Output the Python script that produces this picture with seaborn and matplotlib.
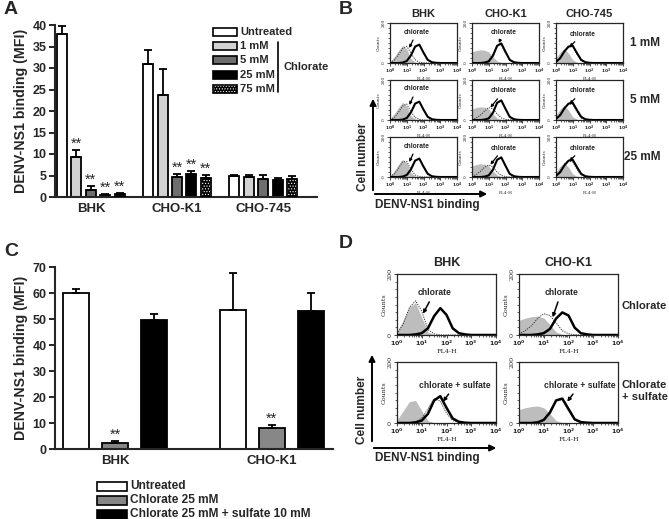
import matplotlib
matplotlib.use("Agg")
import matplotlib.pyplot as plt
from matplotlib.patches import Rectangle, FancyArrowPatch
from matplotlib.lines import Line2D
from matplotlib.container import BarContainer
import matplotlib.ticker as mticker
import seaborn as sns
import pandas as pd
import numpy as np

# ---------------- data: panel A ----------------
a_cells = ["BHK", "CHO-K1", "CHO-745"]
a_treat = ["Untreated", "1 mM", "5 mM", "25 mM", "75 mM"]
a_mean_bhk = [38.0, 9.3, 1.7, 0.4, 0.6]
a_err_bhk = [1.8, 1.6, 0.8, 0.2, 0.4]
a_mean_cho = [31.0, 23.7, 4.6, 5.3, 4.4]
a_err_cho = [3.2, 6.0, 0.8, 0.7, 0.8]
a_mean_745 = [5.0, 4.6, 4.3, 4.0, 4.2]
a_err_745 = [0.2, 0.6, 0.8, 0.5, 0.8]
a_star_bhk = [False, True, True, True, True]
a_star_cho = [False, False, True, True, True]
a_star_745 = [False, False, False, False, False]

# ---------------- data: panel C ----------------
c_cells = ["BHK", "CHO-K1"]
c_treat = ["Untreated", "Chlorate 25 mM", "Chlorate 25 mM + sulfate 10 mM"]
c_mean_bhk = [60.0, 2.5, 49.8]
c_err_bhk = [1.5, 0.7, 2.3]
c_mean_cho = [53.5, 8.0, 53.2]
c_err_cho = [14.3, 1.3, 6.7]
c_star_bhk = [False, True, False]
c_star_cho = [False, True, False]

# ---------------- data: FACS histograms (counts per FL4-H decade bin) ----------------
fl4_decades = [0.0, 0.25, 0.5, 0.75, 1.0, 1.25, 1.5, 1.75, 2.0, 2.25, 2.5, 2.75, 3.0, 3.25, 3.5, 3.75, 4.0]

b_bhk_ctrl = [6, 30, 62, 88, 70, 22, 4, 1, 0, 0, 0, 0, 0, 0, 0, 0, 0]
b_bhk_untr = [0, 0, 0, 2, 10, 38, 82, 92, 52, 16, 4, 1, 0, 0, 0, 0, 0]
b_bhk_chl_1 = [2, 14, 40, 72, 84, 50, 16, 4, 1, 0, 0, 0, 0, 0, 0, 0, 0]
b_bhk_chl_5 = [2, 12, 38, 70, 80, 42, 12, 3, 0, 0, 0, 0, 0, 0, 0, 0, 0]
b_bhk_chl_25 = [3, 14, 42, 75, 78, 38, 10, 2, 0, 0, 0, 0, 0, 0, 0, 0, 0]

b_cho_ctrl = [55, 62, 66, 64, 55, 30, 10, 2, 0, 0, 0, 0, 0, 0, 0, 0, 0]
b_cho_untr = [0, 0, 0, 2, 8, 36, 86, 98, 56, 16, 4, 1, 0, 0, 0, 0, 0]
b_cho_chl_1 = [0, 0, 1, 4, 14, 45, 88, 92, 50, 14, 3, 0, 0, 0, 0, 0, 0]
b_cho_chl_5 = [3, 10, 24, 44, 62, 56, 30, 10, 3, 1, 0, 0, 0, 0, 0, 0, 0]
b_cho_chl_25 = [4, 12, 28, 48, 60, 50, 24, 8, 2, 0, 0, 0, 0, 0, 0, 0, 0]

b_745_ctrl = [24, 55, 72, 48, 16, 3, 0, 0, 0, 0, 0, 0, 0, 0, 0, 0, 0]
b_745_untr = [6, 24, 58, 82, 86, 50, 16, 4, 1, 0, 0, 0, 0, 0, 0, 0, 0]
b_745_chl_1 = [6, 26, 60, 84, 82, 44, 12, 3, 0, 0, 0, 0, 0, 0, 0, 0, 0]
b_745_chl_5 = [8, 28, 62, 82, 78, 40, 10, 2, 0, 0, 0, 0, 0, 0, 0, 0, 0]
b_745_chl_25 = [8, 30, 64, 80, 76, 38, 10, 2, 0, 0, 0, 0, 0, 0, 0, 0, 0]

d_bhk_ctrl_a = [10, 48, 92, 106, 58, 10, 2, 0, 0, 0, 0, 0, 0, 0, 0, 0, 0]
d_bhk_chl = [4, 36, 90, 112, 78, 18, 4, 0, 0, 0, 0, 0, 0, 0, 0, 0, 0]
d_bhk_untr_a = [0, 0, 0, 2, 6, 22, 62, 88, 66, 22, 6, 2, 0, 0, 0, 0, 0]
d_cho_ctrl_a = [48, 55, 60, 62, 56, 34, 10, 2, 0, 0, 0, 0, 0, 0, 0, 0, 0]
d_cho_chl = [4, 14, 30, 54, 70, 64, 40, 14, 4, 1, 0, 0, 0, 0, 0, 0, 0]
d_cho_untr_a = [0, 0, 0, 2, 6, 20, 54, 74, 64, 24, 6, 2, 0, 0, 0, 0, 0]
d_bhk_ctrl_b = [10, 40, 70, 74, 40, 8, 1, 0, 0, 0, 0, 0, 0, 0, 0, 0, 0]
d_bhk_chlsul = [0, 0, 1, 4, 16, 46, 80, 72, 32, 8, 2, 0, 0, 0, 0, 0, 0]
d_bhk_untr_b = [0, 0, 0, 2, 8, 30, 74, 88, 50, 15, 4, 1, 0, 0, 0, 0, 0]
d_cho_ctrl_b = [44, 50, 54, 56, 50, 30, 8, 1, 0, 0, 0, 0, 0, 0, 0, 0, 0]
d_cho_chlsul = [0, 0, 1, 3, 12, 40, 74, 76, 40, 10, 2, 0, 0, 0, 0, 0, 0]
d_cho_untr_b = [0, 0, 0, 2, 10, 34, 74, 80, 46, 12, 3, 1, 0, 0, 0, 0, 0]

# ---------------- style ----------------
sns.set_style("ticks")
plt.rcParams["font.family"] = ["Liberation Sans", "DejaVu Sans"]
plt.rcParams["font.weight"] = "bold"
plt.rcParams["hatch.color"] = "white"
plt.rcParams["hatch.linewidth"] = 0.5

W, H = 669, 519
fig = plt.figure(figsize=(W / 100, H / 100), dpi=100)
DOTS = "......"


def fx(px):
    return px / W


def fy(py):
    return 1 - py / H


def ax_px(left, top, right, bottom):
    return fig.add_axes([fx(left), fy(bottom), (right - left) / W, (bottom - top) / H])


def bar_panel(ax, cells, treat, means, errs, stars, colors, width, gap, ymax, ystep):
    rows = []
    for cell, vals in zip(cells, means):
        for t, v in zip(treat, vals):
            rows.append({"cell": cell, "treat": t, "value": v})
    df = pd.DataFrame(rows)
    sns.barplot(data=df, x="cell", y="value", hue="treat", order=cells, hue_order=treat,
                palette=colors, edgecolor="black", linewidth=1.3, width=width, gap=gap,
                errorbar=None, legend=False, ax=ax)
    conts = [c for c in ax.containers if isinstance(c, BarContainer)]
    for i, cont in enumerate(conts):
        for j, bar in enumerate(cont.patches):
            xc = bar.get_x() + bar.get_width() / 2
            top = bar.get_height()
            e = errs[j][i]
            ax.errorbar(xc, top, yerr=[[0], [e]], fmt="none", ecolor="black",
                        elinewidth=1.3, capsize=3.2, capthick=1.3, zorder=1)
            if stars[j][i]:
                ax.text(xc, top + e - ymax * 0.004, "**", ha="center", va="bottom",
                        fontsize=10.5, fontweight="normal")
    ax.set_ylim(0, ymax)
    ax.set_yticks(np.arange(0, ymax + 0.1, ystep))
    ax.set_xlabel("")
    ax.set_ylabel("DENV-NS1 binding (MFI)", fontsize=10.2, fontweight="bold", labelpad=3)
    for s in ["top", "right"]:
        ax.spines[s].set_visible(False)
    for s in ["left", "bottom"]:
        ax.spines[s].set_linewidth(1.5)
    ax.tick_params(axis="both", width=1.4, length=4, labelsize=9, pad=2)
    ax.tick_params(axis="x", length=0, pad=4, labelsize=9.5)
    for lab in ax.get_yticklabels() + ax.get_xticklabels():
        lab.set_fontweight("bold")
    return conts


# ---------------- panel A ----------------
axA = ax_px(55, 25, 317, 197)
a_colors = ["white", "#d2d2d2", "#6e6e6e", "black", "black"]
contsA = bar_panel(axA, a_cells, a_treat, [a_mean_bhk, a_mean_cho, a_mean_745],
                   [a_err_bhk, a_err_cho, a_err_745], [a_star_bhk, a_star_cho, a_star_745],
                   a_colors, 0.84, 0.31, 40, 5)
axA.set_xlim(-0.417, 2.626)
for bar in contsA[4].patches:
    bar.set_hatch(DOTS)
    bar.set_edgecolor("white")
    axA.add_patch(Rectangle((bar.get_x(), 0), bar.get_width(), bar.get_height(),
                            fill=False, edgecolor="black", lw=1.3, zorder=3))

# legend A
for k, (lab, col) in enumerate(zip(a_treat, a_colors)):
    yc = 32 + k * 14.2
    box = ((fx(213), fy(yc + 4)), 24 / W, 8 / H)
    if k == 4:
        fig.add_artist(Rectangle(*box, transform=fig.transFigure, facecolor=col,
                                 edgecolor="white", lw=0.5, hatch=DOTS))
        fig.add_artist(Rectangle(*box, transform=fig.transFigure, fill=False,
                                 edgecolor="black", lw=1.2))
    else:
        fig.add_artist(Rectangle(*box, transform=fig.transFigure, facecolor=col,
                                 edgecolor="black", lw=1.2))
    fig.text(fx(240), fy(yc), lab, fontsize=8, fontweight="bold", va="center", ha="left")
fig.add_artist(Line2D([fx(278), fx(278)], [fy(42), fy(92)], color="black", lw=1.2,
                      transform=fig.transFigure))
fig.text(fx(283), fy(67), "Chlorate", fontsize=8, fontweight="bold", va="center")

# ---------------- panel C ----------------
axC = ax_px(55, 267, 333, 449)
c_colors = ["white", "#878787", "black"]
bar_panel(axC, c_cells, c_treat, [c_mean_bhk, c_mean_cho], [c_err_bhk, c_err_cho],
          [c_star_bhk, c_star_cho], c_colors, 0.75, 0.33, 70, 10)
axC.set_xlim(-0.384, 1.39)

for k, (lab, col) in enumerate(zip(c_treat, c_colors)):
    yc = 486 + k * 14
    fig.add_artist(Rectangle((fx(97), fy(yc + 4.5)), 30 / W, 9 / H, transform=fig.transFigure,
                             facecolor=col, edgecolor="black", lw=1.2))
    fig.text(fx(130), fy(yc), lab, fontsize=8.6, fontweight="bold", va="center", ha="left")


# ---------------- FACS helper ----------------
xs = 10 ** np.array(fl4_decades)


def facs(ax, ctrl, chl, untr, small, note, note_xy, tip_xy):
    fs = 3.2 if small else 4.6
    ax.fill_between(xs, ctrl, color="#bdbdbd", lw=0, zorder=1)
    sns.lineplot(x=xs, y=chl, ax=ax, color="#333333", lw=0.7, linestyle=(0, (1.2, 1.2)), zorder=2)
    sns.lineplot(x=xs, y=untr, ax=ax, color="black", lw=1.5 if small else 1.8, zorder=3)
    ax.set_xscale("log")
    ax.set_xlim(1, 1e4)
    ax.set_ylim(0, 200)
    ax.set_yticks([0, 200])
    ax.yaxis.set_minor_locator(mticker.MultipleLocator(25))
    ax.set_xticks([1, 10, 100, 1000, 10000])
    ax.xaxis.set_minor_locator(mticker.LogLocator(base=10, subs=np.arange(2, 10), numticks=20))
    ax.xaxis.set_minor_formatter(mticker.NullFormatter())
    ax.set_xticklabels([r"$10^{%d}$" % n for n in range(5)], fontfamily="DejaVu Serif",
                       fontweight="normal", fontsize=fs)
    ax.set_yticklabels(["0", "200"], rotation=90, va="center", fontfamily="DejaVu Serif",
                       fontweight="normal", fontsize=fs)
    ax.tick_params(which="major", length=2, width=0.6, pad=1)
    ax.tick_params(which="minor", length=1.2, width=0.5)
    ax.set_xlabel("FL4-H", fontsize=fs, fontfamily="DejaVu Serif", fontweight="normal", labelpad=0.5)
    ax.set_ylabel("Counts", fontsize=fs, fontfamily="DejaVu Serif", fontweight="normal", labelpad=1)
    for s in ax.spines.values():
        s.set_linewidth(0.9)
    ax.annotate(note, xy=(10 ** tip_xy[0], tip_xy[1]), xytext=(10 ** note_xy[0], note_xy[1]),
                ha="center", va="center", fontsize=4.8 if small else 6.2, fontweight="bold",
                arrowprops=dict(arrowstyle="-|>", lw=0.9 if small else 1.1, color="black",
                                mutation_scale=4 if small else 5, shrinkA=1, shrinkB=0))


# ---------------- panel B ----------------
b_cols = [390, 472, 556]
b_rows = [23, 80, 137]
b_w, b_h = 67, 40
b_ctrl = [b_bhk_ctrl, b_cho_ctrl, b_745_ctrl]
b_untr = [b_bhk_untr, b_cho_untr, b_745_untr]
b_chl = [[b_bhk_chl_1, b_bhk_chl_5, b_bhk_chl_25],
         [b_cho_chl_1, b_cho_chl_5, b_cho_chl_25],
         [b_745_chl_1, b_745_chl_5, b_745_chl_25]]
b_note = [((1.6, 155), (1.15, 75)), ((1.9, 155), (1.6, 100)), ((1.6, 145), (0.8, 80))]
b_note_low = ((1.9, 145), (1.1, 62))
b_titles = ["BHK", "CHO-K1", "CHO-745"]
b_conc = ["1 mM", "5 mM", "25 mM"]
for c in range(3):
    for r in range(3):
        ax = ax_px(b_cols[c], b_rows[r], b_cols[c] + b_w, b_rows[r] + b_h)
        nxy, txy = b_note[c]
        if c == 1 and r > 0:
            nxy, txy = b_note_low
        facs(ax, b_ctrl[c], b_chl[c][r], b_untr[c], True, "chlorate", nxy, txy)
        if r == 0:
            ax.set_title(b_titles[c], fontsize=8, fontweight="bold", pad=4)
for r in range(3):
    fig.text(fx(660), fy(b_rows[r] + 20), b_conc[r], fontsize=8.5, fontweight="bold",
             ha="right", va="center")

fig.add_artist(FancyArrowPatch((fx(373), fy(193)), (fx(373), fy(96)), transform=fig.transFigure,
                               arrowstyle="-|>", mutation_scale=9, lw=1.4, color="black"))
fig.add_artist(FancyArrowPatch((fx(372), fy(194)), (fx(490), fy(194)), transform=fig.transFigure,
                               arrowstyle="-|>", mutation_scale=9, lw=1.4, color="black"))
fig.text(fx(363), fy(157), "Cell number", rotation=90, fontsize=8.5, fontweight="bold",
         ha="center", va="center")
fig.text(fx(375), fy(205), "DENV-NS1 binding", fontsize=8.5, fontweight="bold",
         ha="left", va="center")

# ---------------- panel D ----------------
d_cols = [397, 519]
d_rows = [274, 362]
d_w, d_h = 99, 61
d_sets = [
    [(d_bhk_ctrl_a, d_bhk_chl, d_bhk_untr_a, "chlorate", (1.5, 138), (1.05, 70)),
     (d_cho_ctrl_a, d_cho_chl, d_cho_untr_a, "chlorate", (1.7, 138), (1.36, 58))],
    [(d_bhk_ctrl_b, d_bhk_chlsul, d_bhk_untr_b, "chlorate + sulfate", (2.35, 124), (1.86, 70)),
     (d_cho_ctrl_b, d_cho_chlsul, d_cho_untr_b, "chlorate + sulfate", (2.45, 124), (1.95, 70))],
]
d_titles = ["BHK", "CHO-K1"]
for r in range(2):
    for c in range(2):
        ctrl, chl, untr, note, nxy, txy = d_sets[r][c]
        ax = ax_px(d_cols[c], d_rows[r], d_cols[c] + d_w, d_rows[r] + d_h)
        facs(ax, ctrl, chl, untr, False, note, nxy, txy)
        if r == 0:
            ax.set_title(d_titles[c], fontsize=9, fontweight="bold", pad=6)
fig.text(fx(622), fy(306), "Chlorate", fontsize=8, fontweight="bold", ha="left", va="center")
fig.text(fx(622), fy(391), "Chlorate\n+ sulfate", fontsize=8, fontweight="bold", ha="left",
         va="center", linespacing=1.15)

fig.add_artist(FancyArrowPatch((fx(372), fy(444)), (fx(372), fy(352)), transform=fig.transFigure,
                               arrowstyle="-|>", mutation_scale=9, lw=1.4, color="black"))
fig.add_artist(FancyArrowPatch((fx(371), fy(448)), (fx(499), fy(448)), transform=fig.transFigure,
                               arrowstyle="-|>", mutation_scale=9, lw=1.4, color="black"))
fig.text(fx(362), fy(410), "Cell number", rotation=90, fontsize=8.5, fontweight="bold",
         ha="center", va="center")
fig.text(fx(375), fy(458), "DENV-NS1 binding", fontsize=8.5, fontweight="bold",
         ha="left", va="center")

# ---------------- panel letters ----------------
for letter, px, py in [("A", 4, 10), ("B", 339, 10), ("C", 4, 251), ("D", 339, 243)]:
    fig.text(fx(px), fy(py), letter, fontsize=14, fontweight="bold", ha="left", va="center")

fig.savefig("out.png", dpi=100)
